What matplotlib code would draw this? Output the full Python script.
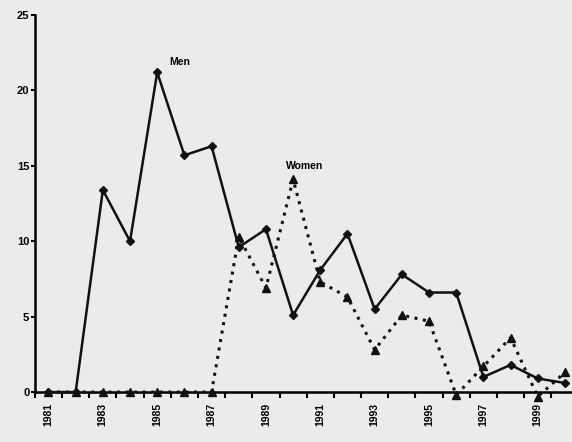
import numpy as np
import matplotlib.pyplot as plt

plt.rcParams['font.family'] = ['Liberation Sans', 'DejaVu Sans']

# Jahre und Werte
years = np.arange(1981, 2001)
men = [0, 0, 13.4, 10.0, 21.2, 15.7, 16.3, 9.6, 10.8, 5.1, 8.1, 10.5, 5.5,
       7.8, 6.6, 6.6, 1.0, 1.8, 0.9, 0.6]
women = [0, 0, 0, 0, 0, 0, 0, 10.3, 6.9, 14.1, 7.3, 6.3, 2.8, 5.1, 4.7,
         -0.2, 1.7, 3.6, -0.3, 1.3]
label_years = np.arange(1981, 2000, 2)
y_ticks = [0, 5, 10, 15, 20, 25]

bg = '#ebebeb'
fig = plt.figure(figsize=(5.72, 4.42), dpi=100, facecolor=bg)
ax = fig.add_axes([0.061, 0.113, 0.939, 0.853], facecolor=bg)

ax.plot(years, women, color='#111111', linestyle=(0, (1, 1.8)), linewidth=2.2,
        marker='^', markersize=5.5, clip_on=False, zorder=3)
ax.plot(years, men, color='#111111', linestyle='-', linewidth=1.8,
        marker='D', markersize=4.5, clip_on=False, zorder=4)

ax.text(1985.45, 21.7, 'Men', fontsize=7.5, fontweight='bold')
ax.text(1989.75, 14.8, 'Women', fontsize=7.5, fontweight='bold')

ax.set_xlim(1980.56, 2000.26)
ax.set_ylim(0, 25)

# Striche zwischen den Jahren, Beschriftung jedes zweite Jahr
ax.set_xticks(label_years)
ax.set_xticklabels([str(y) for y in label_years], rotation=90,
                   fontsize=7.5, fontweight='bold')
ax.set_xticks(np.arange(1980.5, 2000.5, 1), minor=True)
ax.tick_params(axis='x', which='major', length=0, pad=8)
ax.tick_params(axis='x', which='minor', length=4, width=1.5, direction='out')

ax.set_yticks(y_ticks)
ax.set_yticklabels([str(v) for v in y_ticks], fontsize=8, fontweight='bold')
ax.tick_params(axis='y', length=3, width=1.5, direction='out', pad=1)

for side in ['top', 'right']:
    ax.spines[side].set_visible(False)
ax.spines['left'].set_linewidth(1.8)
ax.spines['bottom'].set_linewidth(1.8)

fig.savefig('out.png', dpi=100, facecolor=bg)
